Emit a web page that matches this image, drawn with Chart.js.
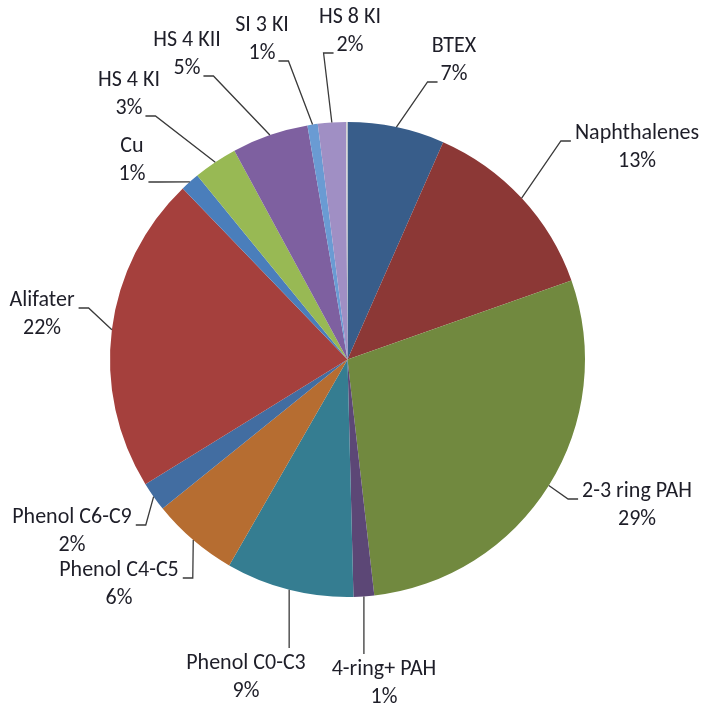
<!DOCTYPE html>
<html>
<head>
<meta charset="utf-8">
<script src="https://cdn.jsdelivr.net/npm/chart.js@4/dist/chart.umd.min.js"></script>
<style>
  body { margin: 0; background: #fff; }
</style>
</head>
<body>
<canvas id="grafico" width="712" height="707"></canvas>
<script>
const categorias = [
  'BTEX', 'Naphthalenes', '2-3 ring PAH', '4-ring+ PAH', 'Phenol C0-C3',
  'Phenol C4-C5', 'Phenol C6-C9', 'Alifater', 'Cu', 'HS 4 KI',
  'HS 4 KII', 'SI 3 KI', 'HS 8 KI', ''
];
const andel = [6.6, 13.0, 28.6, 1.4, 8.7, 5.9, 2.0, 21.6, 1.3, 3.0, 5.2, 0.7, 1.9, 0.1];
const farger = [
  '#385d8a', '#8c3836', '#71893f', '#5c4776', '#357d91',
  '#b66d31', '#426da1', '#a5403d', '#4a7ebb', '#98b954',
  '#7e60a0', '#6a9bd3', '#a08fc4', '#d4d4d4'
];

// placering av etiketter: textens mitt (x), första radens mitt (y), och var ledaren fäster
const etikettLayout = [
  { x: 454, y: 46, sida: 'LB' },
  { x: 637, y: 133, sida: 'L' },
  { x: 637, y: 491, sida: 'L' },
  { x: 384, y: 669, sida: 'T' },
  { x: 246, y: 663, sida: 'T' },
  { x: 119, y: 570, sida: 'R' },
  { x: 72, y: 517, sida: 'R' },
  { x: 42, y: 300, sida: 'R' },
  { x: 132, y: 146, sida: 'RB' },
  { x: 129, y: 80, sida: 'RB' },
  { x: 187, y: 40, sida: 'RB' },
  { x: 262, y: 25, sida: 'RB' },
  { x: 350, y: 17, sida: 'LB' },
  null
];

const FONT = '22px Carlito, Calibri, Lato, sans-serif';
const RAD = 28;

const etiketter = {
  id: 'etiketter',
  afterDraw(chart) {
    const ctx = chart.ctx;
    const meta = chart.getDatasetMeta(0);
    const data = chart.data.datasets[0].data;
    const total = data.reduce((a, b) => a + b, 0);

    ctx.save();
    ctx.font = FONT;
    ctx.textAlign = 'center';
    ctx.textBaseline = 'middle';

    meta.data.forEach((arc, i) => {
      const lay = etikettLayout[i];
      if (!lay) return;
      const namn = chart.data.labels[i];
      const pct = Math.round(data[i] / total * 100) + '%';

      const mid = (arc.startAngle + arc.endAngle) / 2;
      const px = arc.x + arc.outerRadius * Math.cos(mid);
      const py = arc.y + arc.outerRadius * Math.sin(mid);

      const w1 = ctx.measureText(namn).width;
      const w2 = ctx.measureText(pct).width;
      const wMax = Math.max(w1, w2);

      // ledarlinje
      let pts = [];
      if (lay.sida === 'L') {
        const ax = lay.x - wMax / 2 - 4, ay = lay.y + 8;
        pts = [[px, py], [ax - 10, ay], [ax, ay]];
      } else if (lay.sida === 'R') {
        const ax = lay.x + wMax / 2 + 4, ay = lay.y + 8;
        pts = [[px, py], [ax + 10, ay], [ax, ay]];
      } else if (lay.sida === 'LB') {
        const ax = lay.x - w2 / 2 - 3, ay = lay.y + RAD + 8;
        pts = [[px, py], [ax - 10, ay], [ax, ay]];
      } else if (lay.sida === 'RB') {
        const ax = lay.x + w2 / 2 + 3, ay = lay.y + RAD + 8;
        pts = [[px, py], [ax + 10, ay], [ax, ay]];
      } else if (lay.sida === 'T') {
        pts = [[px, py], [px, lay.y - 15]];
      }

      ctx.strokeStyle = '#3a3a3a';
      ctx.lineWidth = 1.3;
      ctx.beginPath();
      pts.forEach((p, k) => k ? ctx.lineTo(p[0], p[1]) : ctx.moveTo(p[0], p[1]));
      ctx.stroke();

      ctx.fillStyle = '#1e1e28';
      ctx.fillText(namn, lay.x, lay.y);
      ctx.fillText(pct, lay.x, lay.y + RAD);
    });
    ctx.restore();
  }
};

new Chart(document.getElementById('grafico'), {
  type: 'pie',
  data: {
    labels: categorias,
    datasets: [{
      data: andel,
      backgroundColor: farger,
      borderWidth: 0
    }]
  },
  options: {
    responsive: false,
    animation: false,
    layout: { padding: { left: 110, right: 127, top: 122, bottom: 110 } },
    plugins: {
      legend: { display: false },
      tooltip: { enabled: false }
    }
  },
  plugins: [etiketter]
});
</script>
</body>
</html>
